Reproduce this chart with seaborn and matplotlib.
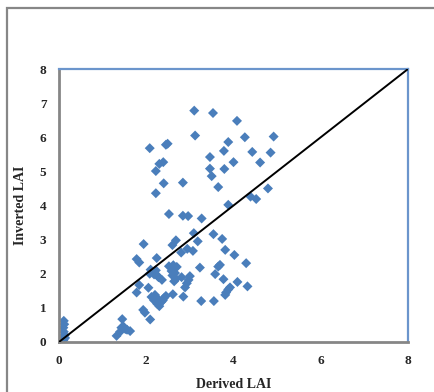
import numpy as np
import pandas as pd
import matplotlib
matplotlib.use("Agg")
import matplotlib.pyplot as plt
import seaborn as sns
from matplotlib.patches import Rectangle

sns.set_style("white")
plt.rcParams["font.family"] = ["Liberation Serif", "DejaVu Serif"]

# derived vs inverted LAI
derived = [
    3.10, 3.53, 4.08, 3.12, 4.26, 4.92, 2.08, 2.45, 2.49, 3.88, 3.78, 4.43, 4.85, 3.46,
    2.30, 2.39, 4.00, 4.61, 2.22, 3.46, 3.79, 3.50, 2.40, 2.84, 3.65, 2.22, 4.79, 4.39,
    4.52, 3.88, 2.52, 2.84, 2.96, 3.27,
    3.09, 3.54, 3.74, 2.68, 2.60, 3.18, 1.94, 2.94, 3.07, 2.80, 3.81, 4.02, 2.24, 1.78,
    1.84, 4.29, 3.69, 3.65,
    2.10, 2.15, 2.18, 2.22, 2.25, 2.08, 2.28, 2.36,
    2.52, 2.62, 2.70, 2.58, 2.66, 2.60, 2.68, 2.64, 2.81, 3.00, 2.97, 2.93, 2.89,
    3.23, 3.58, 3.77, 4.09, 3.92, 3.88, 3.83, 3.81, 4.32, 1.84, 2.05, 1.78, 2.61, 2.85,
    2.12, 2.18, 2.25, 2.30, 2.35, 2.40, 2.45, 2.38, 2.20, 2.28,
    3.26, 3.55, 1.93, 1.97, 2.09, 1.63,
    1.32, 1.45, 1.43, 1.48, 1.52, 1.40, 1.56,
    0.10, 0.12, 0.09, 0.13, 0.11, 0.10, 0.12, 0.11, 0.14, 0.08,
]
inverted = [
    6.78, 6.71, 6.48, 6.05, 6.00, 6.02, 5.68, 5.78, 5.81, 5.86, 5.60, 5.57, 5.55, 5.42,
    5.22, 5.27, 5.27, 5.26, 5.01, 5.08, 5.07, 4.86, 4.65, 4.67, 4.54, 4.36, 4.50, 4.26,
    4.19, 4.02, 3.75, 3.70, 3.69, 3.62,
    3.19, 3.16, 3.02, 2.98, 2.84, 2.95, 2.87, 2.73, 2.67, 2.62, 2.70, 2.55, 2.46, 2.43,
    2.33, 2.31, 2.26, 2.21,
    2.12, 2.05, 1.98, 2.10, 1.95, 2.00, 1.90, 1.82,
    2.22, 2.25, 2.20, 2.08, 2.02, 1.95, 1.85, 1.78, 1.90, 1.93, 1.82, 1.72, 1.60,
    2.18, 1.99, 1.84, 1.76, 1.60, 1.54, 1.45, 1.38, 1.63, 1.67, 1.59, 1.45, 1.40, 1.33,
    1.32, 1.22, 1.12, 1.05, 1.18, 1.28, 1.35, 1.22, 1.38, 1.25,
    1.20, 1.20, 0.94, 0.86, 0.66, 0.32,
    0.18, 0.67, 0.42, 0.45, 0.38, 0.30, 0.36,
    0.05, 0.10, 0.15, 0.20, 0.30, 0.42, 0.52, 0.62, 0.12, 0.08,
]
x_ticks = [0, 2, 4, 6, 8]
y_ticks = [0, 1, 2, 3, 4, 5, 6, 7, 8]
one_to_one = [0, 8]

df = pd.DataFrame({"Derived LAI": derived, "Inverted LAI": inverted})

fig = plt.figure(figsize=(4.34, 3.92), dpi=100)
ax = fig.add_axes([59 / 434, 50 / 392, 349 / 434, 273 / 392])

# chart area border (Excel style)
fig.patches.append(Rectangle((7 / 434, -0.05), 1.0, (392 - 8) / 392 + 0.05,
                             transform=fig.transFigure, fill=False,
                             edgecolor="#878787", linewidth=1.6, zorder=0))

ax.plot(one_to_one, one_to_one, color="black", linewidth=1.4, zorder=3)
sns.scatterplot(data=df, x="Derived LAI", y="Inverted LAI", marker="D", s=26,
                color="#4A7EBB", edgecolor="none", ax=ax, zorder=2)

ax.set_xlim(0, 8)
ax.set_ylim(0, 8)
ax.set_xticks(x_ticks)
ax.set_yticks(y_ticks)
ax.tick_params(length=0, labelsize=9.5, pad=9)
for lab in ax.get_xticklabels() + ax.get_yticklabels():
    lab.set_fontweight("bold")

ax.set_xlabel("Derived LAI", fontsize=10, fontweight="bold", labelpad=8)
ax.set_ylabel("Inverted LAI", fontsize=10, fontweight="bold", labelpad=9)

for side in ["left", "bottom"]:
    ax.spines[side].set_color("#868686")
    ax.spines[side].set_linewidth(2)
for side in ["top", "right"]:
    ax.spines[side].set_color("#6B95CC")
    ax.spines[side].set_linewidth(1.6)

fig.savefig("out.png", dpi=100)
